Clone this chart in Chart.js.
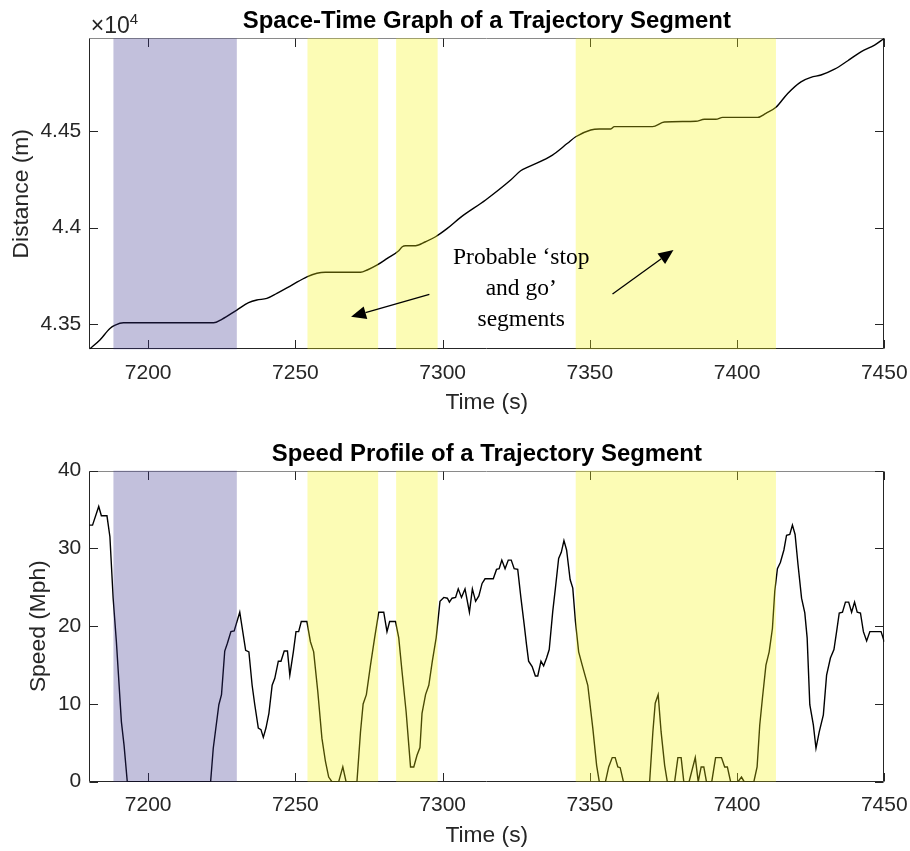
<!DOCTYPE html>
<html>
<head>
<meta charset="utf-8">
<script src="https://cdn.jsdelivr.net/npm/chart.js@4.4.0/dist/chart.umd.min.js"></script>
<style>
  html, body { margin: 0; padding: 0; background: #fff; }
  canvas { display: block; }
</style>
</head>
<body>
<canvas id="spaceTime" width="910" height="425"></canvas>
<canvas id="speedProfile" width="910" height="426"></canvas>
<script>
// trajectory distance (m) against time (s)
const distTime = [7180, 7183.6, 7187.0, 7188.8, 7191.6, 7222.2, 7225.0, 7230.1, 7234.1, 7236.9,
  7240.3, 7243.7, 7248.8, 7253.9, 7257.3, 7260.2, 7272.1, 7274.4, 7277.8, 7281.2,
  7285.1, 7286.3, 7287.4, 7290.8, 7294.2, 7297.6, 7301.6, 7306.1, 7314.6, 7323.1,
  7326.5, 7329.3, 7337.3, 7342.4, 7345.2, 7350.3, 7353.2, 7357.1, 7358.3, 7371.3,
  7375.3, 7386.0, 7388.9, 7392.8, 7395.1, 7407.0, 7409.8, 7413.2, 7417.2, 7421.7,
  7425.1, 7428.5, 7433.1, 7437.6, 7442.2, 7446.7, 7450];
const distMeters = [43371, 43419, 43479, 43496, 43508, 43508, 43526, 43574, 43612, 43626,
  43634, 43660, 43703, 43746, 43764, 43769, 43769, 43781, 43807, 43841,
  43881, 43901, 43906, 43906, 43927, 43953, 43996, 44053, 44143, 44246,
  44294, 44315, 44375, 44436, 44470, 44505, 44510, 44510, 44522, 44522,
  44546, 44550, 44560, 44560, 44570, 44570, 44591, 44622, 44694, 44754,
  44777, 44789, 44819, 44863, 44910, 44944, 44979];

// speed (mph) against time (s)
const speedTime = [7180.0, 7181.1, 7183.2, 7184.1, 7186.0, 7187.0, 7188.1, 7189.2, 7190.9, 7191.8,
  7192.9, 7221.2, 7222.1, 7224.0, 7224.9, 7226.0, 7226.9, 7228.1, 7229.2, 7231.1,
  7233.1, 7234.2, 7235.3, 7236.2, 7237.4, 7238.3, 7239.1, 7240.0, 7241.0, 7242.1,
  7243.0, 7244.2, 7245.1, 7246.2, 7247.3, 7248.1, 7249.3, 7250.2, 7251.1, 7252.0,
  7253.9, 7255.1, 7256.2, 7257.6, 7259.0, 7260.2, 7261.3, 7262.4, 7264.7, 7266.1,
  7267.2, 7270.9, 7272.1, 7273.0, 7274.1, 7275.5, 7276.9, 7278.3, 7280.0, 7281.1,
  7282.0, 7284.0, 7285.1, 7286.2, 7287.6, 7289.1, 7290.2, 7291.3, 7292.3, 7293.0,
  7294.2, 7295.3, 7296.5, 7297.8, 7299.1, 7300.4, 7301.6, 7302.3, 7303.2, 7304.4,
  7305.3, 7306.4, 7307.6, 7309.1, 7310.1, 7311.2, 7312.3, 7313.4, 7314.4, 7317.2,
  7318.3, 7319.2, 7320.1, 7321.2, 7322.3, 7323.3, 7324.3, 7325.5, 7326.6, 7327.7,
  7328.5, 7329.2, 7330.4, 7331.5, 7332.3, 7333.4, 7334.3, 7335.3, 7336.2, 7337.4,
  7338.3, 7339.4, 7340.3, 7341.2, 7342.1, 7343.3, 7344.2, 7345.1, 7346.2, 7347.4,
  7349.3, 7351.0, 7352.3, 7353.2, 7355.3, 7356.4, 7357.6, 7358.6, 7359.5, 7360.3,
  7361.4, 7370.3, 7371.4, 7372.2, 7373.2, 7374.2, 7375.4, 7376.3, 7378.8, 7379.9,
  7381.0, 7381.9, 7383.7, 7385.8, 7386.8, 7387.8, 7388.7, 7389.6, 7391.4, 7392.7,
  7394.7, 7395.8, 7396.7, 7397.8, 7400.3, 7401.5, 7402.4, 7405.7, 7406.8, 7407.7,
  7408.6, 7409.8, 7410.9, 7412.0, 7412.8, 7413.7, 7414.7, 7415.9, 7416.8, 7417.9,
  7418.8, 7419.7, 7420.7, 7421.9, 7423.0, 7423.8, 7424.7, 7425.9, 7426.8, 7427.9,
  7429.3, 7430.4, 7431.7, 7432.9, 7433.8, 7434.7, 7435.8, 7436.8, 7437.9, 7438.9,
  7439.9, 7440.8, 7441.9, 7442.9, 7444.0, 7445.1, 7448.9, 7450.0];
const speedMph = [33.0, 33.0, 35.4, 34.2, 34.2, 31.5, 23.6, 18.0, 7.7, 4.7,
  0, 0, 4.3, 9.9, 11.2, 16.8, 17.8, 19.3, 19.4, 21.8,
  16.9, 16.7, 12.4, 9.9, 6.9, 6.7, 5.7, 6.9, 8.8, 12.4,
  13.3, 15.5, 15.5, 16.8, 16.8, 13.7, 16.7, 19.3, 19.3, 20.6,
  20.6, 18.0, 16.7, 11.6, 5.6, 2.6, 0.6, 0, 0, 1.9,
  0, 0, 6.4, 10.0, 11.2, 15.0, 18.5, 21.8, 21.8, 19.3,
  20.6, 20.6, 18.5, 14.2, 9.0, 1.9, 1.9, 3.4, 4.4, 8.8,
  11.2, 12.4, 15.5, 18.5, 23.2, 23.7, 23.6, 23.1, 23.6, 23.7,
  24.8, 23.7, 24.8, 21.8, 24.8, 23.2, 23.9, 25.5, 26.1, 26.1,
  27.3, 27.4, 28.5, 27.4, 28.5, 28.5, 27.4, 27.3, 23.6, 20.2,
  17.6, 15.5, 14.8, 13.6, 13.6, 15.5, 14.9, 15.9, 17.0, 21.9,
  24.9, 28.7, 29.5, 31.0, 29.8, 26.0, 24.9, 20.6, 16.7, 15.0,
  12.4, 6.9, 2.1, 0, 0, 1.9, 3.1, 3.1, 1.9, 1.8,
  0, 0, 6.4, 10.1, 11.2, 6.4, 2.1, 0, 0, 3.1,
  3.1, 0, 0, 3.1, 0, 1.9, 1.9, 0, 0, 3.1,
  3.1, 1.9, 1.9, 0, 0, 0.6, 0, 0, 1.9, 7.3,
  10.7, 15.0, 16.7, 19.7, 24.5, 27.4, 28.2, 29.8, 31.7, 31.8,
  33.0, 31.8, 27.9, 23.6, 21.7, 18.5, 9.9, 7.3, 4.3, 6.4,
  8.6, 13.7, 15.9, 17.0, 19.3, 21.7, 21.8, 23.1, 23.1, 21.8,
  23.1, 21.8, 21.7, 19.3, 18.1, 19.3, 19.3, 18.0];

// highlighted intervals (s): first one is the long stop, the rest are stop-and-go
const bandStart = [7188.2, 7254.1, 7284.2, 7345.2];
const bandEnd = [7230.1, 7278.1, 7298.3, 7413.2];

const timeTicks = [7200, 7250, 7300, 7350, 7400, 7450];
const distTicks = [43500, 44000, 44500];
const speedTicks = [0, 10, 20, 30, 40];

const INK = '#262626';
const SANS = "'Liberation Sans', Arial, sans-serif";
Chart.defaults.font.family = SANS;
Chart.defaults.color = INK;

const pts = (xs, ys) => xs.map((x, i) => ({ x: x, y: ys[i] }));

// box, inward ticks and translucent bands in the MATLAB style
const axesBox = {
  id: 'axesBox',
  beforeDatasetsDraw(chart) {
    const { ctx, chartArea: a, scales: { x, y } } = chart;
    const L = Math.round(a.left) + 0.5, R = Math.round(a.right) - 0.5;
    const T = Math.round(a.top) + 0.5, B = Math.round(a.bottom) - 0.5;
    const tl = 8.5;
    ctx.save();
    ctx.lineWidth = 1;
    ctx.strokeStyle = '#8a8a8a';
    ctx.beginPath(); ctx.moveTo(L, T); ctx.lineTo(R, T); ctx.stroke();
    ctx.strokeStyle = INK;
    ctx.beginPath();
    ctx.moveTo(L, T); ctx.lineTo(L, B); ctx.lineTo(R, B); ctx.lineTo(R, T);
    x.ticks.forEach(t => {
      const px = Math.round(x.getPixelForValue(t.value)) + 0.5;
      ctx.moveTo(px, B); ctx.lineTo(px, B - tl);
      ctx.moveTo(px, T); ctx.lineTo(px, T + tl);
    });
    y.ticks.forEach(t => {
      const py = Math.round(y.getPixelForValue(t.value)) + 0.5;
      ctx.moveTo(L, py); ctx.lineTo(L + tl, py);
      ctx.moveTo(R, py); ctx.lineTo(R - tl, py);
    });
    ctx.stroke();
    ctx.restore();
  },
  afterDatasetsDraw(chart) {
    const { ctx, chartArea: a, scales: { x } } = chart;
    ctx.save();
    bandStart.forEach((s, i) => {
      const x0 = x.getPixelForValue(s), x1 = x.getPixelForValue(bandEnd[i]);
      ctx.fillStyle = i === 0 ? 'rgba(52, 46, 140, 0.3)' : 'rgba(245, 245, 10, 0.3)';
      ctx.fillRect(x0, a.top, x1 - x0, a.bottom - a.top);
    });
    ctx.restore();
  }
};

function arrow(ctx, x1, y1, x2, y2) {
  const ang = Math.atan2(y2 - y1, x2 - x1);
  const len = 15, hw = 6.5;
  const bx = x2 - len * Math.cos(ang), by = y2 - len * Math.sin(ang);
  ctx.beginPath();
  ctx.moveTo(x1, y1); ctx.lineTo(bx, by);
  ctx.stroke();
  ctx.beginPath();
  ctx.moveTo(x2, y2);
  ctx.lineTo(bx + hw * Math.sin(ang), by - hw * Math.cos(ang));
  ctx.lineTo(bx - hw * Math.sin(ang), by + hw * Math.cos(ang));
  ctx.closePath();
  ctx.fill();
}

// x10^4 multiplier plus the stop-and-go note with its two arrows
const spaceTimeNotes = {
  id: 'spaceTimeNotes',
  afterDraw(chart) {
    const { ctx, chartArea: a, scales: { x, y } } = chart;
    ctx.save();
    ctx.fillStyle = INK;
    ctx.textBaseline = 'alphabetic';
    ctx.textAlign = 'left';
    ctx.font = '23px ' + SANS;
    const mx = a.left + 1.5;
    ctx.fillText('\u00d710', mx, 33);
    const w = ctx.measureText('\u00d710').width;
    ctx.font = '15px ' + SANS;
    ctx.fillText('4', mx + w, 23.5);

    ctx.fillStyle = '#000';
    ctx.font = "23.5px 'Liberation Serif', 'Times New Roman', serif";
    ctx.textAlign = 'center';
    const tx = x.getPixelForValue(7326.7), ty = y.getPixelForValue(43812);
    ['Probable \u2018stop', 'and go\u2019', 'segments'].forEach((s, i) => ctx.fillText(s, tx, ty + i * 31));

    ctx.strokeStyle = '#000';
    ctx.lineWidth = 1.3;
    arrow(ctx, x.getPixelForValue(7295.5), y.getPixelForValue(43655),
      x.getPixelForValue(7268.9), y.getPixelForValue(43539));
    arrow(ctx, x.getPixelForValue(7357.7), y.getPixelForValue(43657),
      x.getPixelForValue(7378.4), y.getPixelForValue(43884));
    ctx.restore();
  }
};

function timeAxis(height, titlePad) {
  return {
    type: 'linear', min: 7180, max: 7450,
    afterBuildTicks: s => { s.ticks = timeTicks.map(v => ({ value: v })); },
    afterFit: s => { s.height = height; s.paddingLeft = 0; s.paddingRight = 0; },
    grid: { display: false, drawTicks: false },
    border: { display: false },
    ticks: { padding: 11, color: INK, font: { size: 21 }, callback: v => String(v) },
    title: { display: true, text: 'Time (s)', color: INK, font: { size: 22.8 }, padding: { top: 0, bottom: titlePad } }
  };
}

function valueAxis(min, max, ticks, label, titlePad, fmt) {
  return {
    min: min, max: max,
    afterBuildTicks: s => { s.ticks = ticks.map(v => ({ value: v })); },
    afterFit: s => { s.width = 89.3; s.paddingTop = 0; s.paddingBottom = 0; },
    grid: { display: false, drawTicks: false },
    border: { display: false },
    ticks: { padding: 8, color: INK, font: { size: 21 }, callback: fmt },
    title: { display: true, text: label, color: INK, font: { size: 22.8 }, padding: { top: titlePad, bottom: 0 } }
  };
}

function chartTitle(text, top, bottom) {
  return {
    display: true, text: text, fullSize: false, color: '#000',
    font: { size: 23.9, weight: 'bold' }, padding: { top: top, bottom: bottom }
  };
}

new Chart(document.getElementById('spaceTime'), {
  type: 'line',
  data: {
    datasets: [{
      data: pts(distTime, distMeters),
      borderColor: '#000', borderWidth: 1.4, pointRadius: 0,
      cubicInterpolationMode: 'monotone'
    }]
  },
  options: {
    responsive: false, animation: false, events: [],
    layout: { padding: { left: 0, right: 25.7, top: 0, bottom: 0 } },
    scales: {
      x: timeAxis(75.7, 8.2),
      y: valueAxis(43371, 44979, distTicks, 'Distance (m)', 7.7, v => String(v / 1e4))
    },
    plugins: {
      legend: { display: false },
      tooltip: { enabled: false },
      title: chartTitle('Space-Time Graph of a Trajectory Segment', 6.7, 2.9)
    }
  },
  plugins: [axesBox, spaceTimeNotes]
});

new Chart(document.getElementById('speedProfile'), {
  type: 'line',
  data: {
    datasets: [{
      data: pts(speedTime, speedMph),
      borderColor: '#000', borderWidth: 1.4, pointRadius: 0
    }]
  },
  options: {
    responsive: false, animation: false, events: [],
    layout: { padding: { left: 0, right: 25.7, top: 0, bottom: 0 } },
    scales: {
      x: timeAxis(69.3, 1.9),
      y: valueAxis(0, 40, speedTicks, 'Speed (Mph)', 24.6, v => String(v))
    },
    plugins: {
      legend: { display: false },
      tooltip: { enabled: false },
      title: chartTitle('Speed Profile of a Trajectory Segment', 14.7, 2.3)
    }
  },
  plugins: [axesBox]
});
</script>
</body>
</html>
